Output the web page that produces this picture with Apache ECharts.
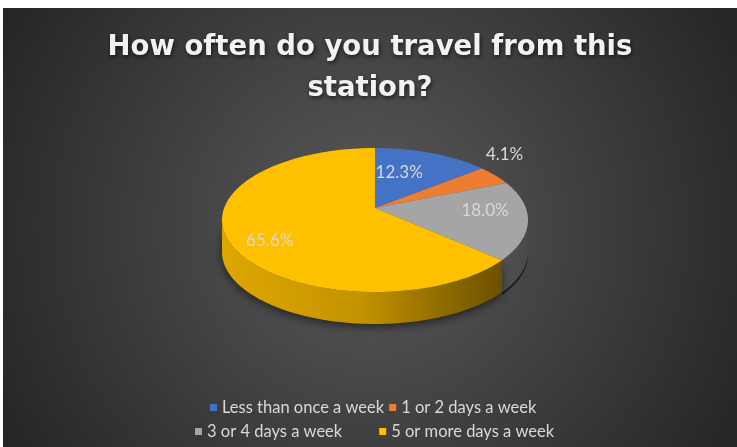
<!DOCTYPE html>
<html><head><meta charset="utf-8">
<script src="https://cdn.jsdelivr.net/npm/echarts@6/dist/echarts.min.js"></script>
<style>html,body{margin:0;padding:0;background:#fff;overflow:hidden}
#c{position:absolute;left:3px;top:8px;width:734px;height:439px}</style>
</head><body><div id="c"></div>
<script>
// ---- data ----
const titleText = 'How often do you travel from this\nstation?';
const categories = ['Less than once a week', '1 or 2 days a week', '3 or 4 days a week', '5 or more days a week'];
const counts = [15, 5, 22, 80];
const legendRow1 = [categories[0], categories[1]];
const legendRow2 = [categories[2], categories[3]];

// ---- styles / geometry ----
const topColors = ['#4472C4', '#ED7D31', '#A5A5A5', '#FFC000'];
const PIE = { cx: 372, cy: 212, rx: 153, ry: 72, depth: 32, vy: -12, ly: -6 };
const labelFactor = [[0.42, 0.62], [1.08, 1.34], [0.72, -2], [0.78, 0.78]];
function sideGrad(i) {
  const stops = {
    0: ['#2f528f', '#2f528f', '#1f3864'],
    1: ['#c55a11', '#c55a11', '#843c0c'],
    2: ['#8a8a8a', '#7a7a7a', '#4a4a4a'],
    3: ['#dea700', '#c49300', '#5a4400']
  }[i];
  return { type: 'linear', x: PIE.cx - PIE.rx, y: 0, x2: PIE.cx + PIE.rx, y2: 0, global: true,
    colorStops: [{ offset: 0, color: stops[0] }, { offset: 0.45, color: stops[1] }, { offset: 1, color: stops[2] }] };
}

const total = counts.reduce((a, b) => a + b, 0);
function startOf(i) { let s = 0; for (let k = 0; k < i; k++) s += counts[k]; return s; }
function pt(deg, dy) {
  const r = deg * Math.PI / 180;
  return [PIE.cx + PIE.rx * Math.sin(r), PIE.cy - PIE.ry * Math.cos(r) + (dy || 0)];
}
function arcPts(a1, a2, dy) {
  const pts = []; const n = Math.max(2, Math.ceil(Math.abs(a2 - a1)));
  for (let j = 0; j <= n; j++) pts.push(pt(a1 + (a2 - a1) * j / n, dy));
  return pts;
}
function renderSlice(params, api) {
  const i = params.seriesIndex;
  const v = api.value(0);
  const a1 = startOf(i) / total * 360, a2 = a1 + v / total * 360;
  const children = [];
  const s1 = Math.max(a1, 90), s2 = Math.min(a2, 270);
  if (s2 > s1) {
    const top = arcPts(s1, s2, 0), bot = arcPts(s2, s1, PIE.depth);
    children.push({ type: 'polygon', shape: { points: top.concat(bot) },
      style: { fill: sideGrad(i), shadowBlur: i === 3 ? 10 : 0, shadowColor: 'rgba(0,0,0,0.55)', shadowOffsetY: 3 }, z2: 1 });
  }
  children.push({ type: 'polygon', shape: { points: [[PIE.cx, PIE.cy + PIE.vy]].concat(arcPts(a1, a2, 0)) },
    style: { fill: topColors[i] }, z2: 5 });
  const mid = (a1 + a2) / 2 * Math.PI / 180, f = labelFactor[i];
  children.push({ type: 'text', x: PIE.cx + PIE.rx * f[0] * Math.sin(mid), y: PIE.cy + PIE.ly - PIE.ry * f[1] * Math.cos(mid),
    style: { text: (v / total * 100).toFixed(1) + '%', fill: '#d9d9d9', fontSize: 17, fontFamily: 'Lato',
      align: 'center', verticalAlign: 'middle' }, z2: 10 });
  return { type: 'group', children };
}

const legendText = { color: '#d9d9d9', fontSize: 16.5, fontFamily: 'Lato' };
const chart = echarts.init(document.getElementById('c'));
chart.setOption({
  backgroundColor: { type: 'radial', x: 0.5, y: 0.5, r: 0.95,
    colorStops: [{ offset: 0, color: '#5a5a5a' }, { offset: 1, color: '#262626' }] },
  title: { text: titleText, left: 'center', top: 19, padding: 0,
    textStyle: { color: '#f2f2f2', fontSize: 27.5, fontWeight: 'bold', fontFamily: 'DejaVu Sans', lineHeight: 41,
      textShadowColor: 'rgba(0,0,0,0.6)', textShadowBlur: 4, textShadowOffsetX: 1, textShadowOffsetY: 2 } },
  legend: [
    { data: legendRow1, top: 391, left: 207, padding: 0, itemWidth: 7, itemHeight: 7, itemGap: 5,
      icon: 'rect', selectedMode: false, textStyle: legendText },
    { data: legendRow2, top: 415, left: 192, padding: 0, itemWidth: 7, itemHeight: 7, itemGap: 37,
      icon: 'rect', selectedMode: false, textStyle: legendText }
  ],
  series: categories.map((name, i) => ({
    type: 'custom', name: name, coordinateSystem: 'none', renderItem: renderSlice,
    itemStyle: { color: topColors[i] }, data: [[counts[i]]], animation: false
  }))
});
</script></body></html>
